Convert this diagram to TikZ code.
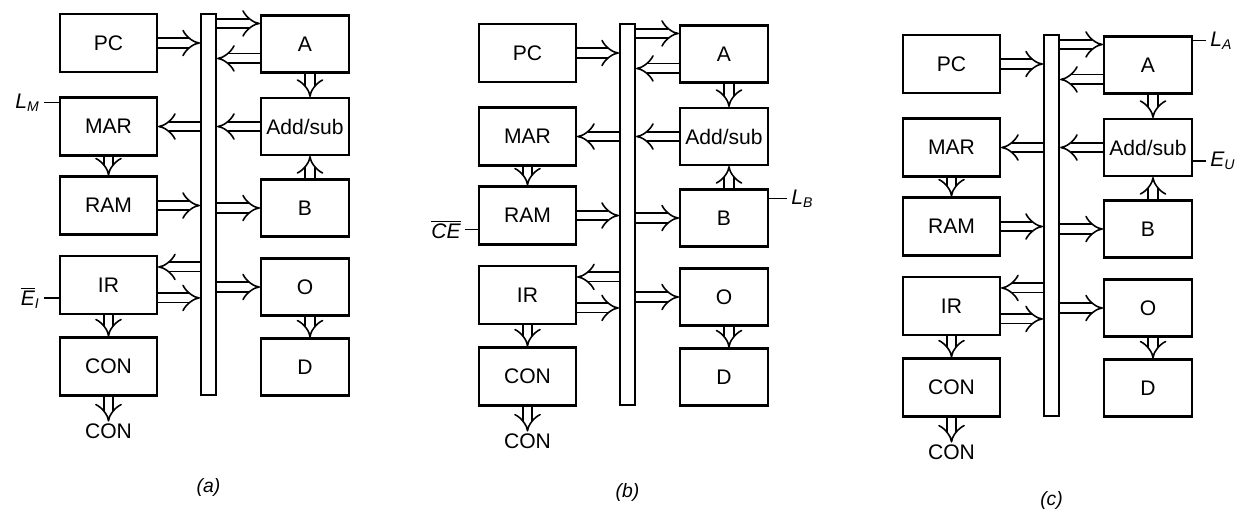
\documentclass[tikz,border=0pt]{standalone}
\usepackage{fontspec}
\setmainfont{Liberation Sans}
\usepackage{tikz}
\usetikzlibrary{positioning,calc,arrows.meta}

\begin{document}
\begin{tikzpicture}[
  x=0.02cm, y=-0.02cm,
  font=\fontsize{12}{14}\selectfont,
  lbox/.style={draw, line width=1.2pt, fill=white, inner sep=0pt,
               minimum width=1.94cm, minimum height=1.16cm},
  rbox/.style={lbox, minimum width=1.76cm, minimum height=1.14cm},
  busbar/.style={draw, line width=1.2pt, fill=white, inner sep=0pt,
                 minimum width=0.3cm, minimum height=7.62cm},
  outlbl/.style={inner sep=1pt},
  panellbl/.style={inner sep=1pt, font=\fontsize{11}{13}\selectfont\itshape},
  sig/.style={inner sep=2pt, font=\fontsize{12}{14}\selectfont\itshape},
  wide/.style={double, double distance=4.5pt, line width=0.9pt, -{Implies}},
  ctlline/.style={line width=0.9pt}
]
  \useasboundingbox (0,0) rectangle (1253,511);

  \foreach \p/\dx/\dy/\cd in {a/0/0/1.6cm, b/419/10/1.5cm, c/843/21/1.45cm} {
    \begin{scope}[shift={(\dx,\dy)}]
      % left column
      \node[lbox] (\p-pc)  at (108.5, 43)    {PC};
      \node[lbox] (\p-mar) at (108.5, 126.5) {MAR};
      \node[lbox] (\p-ram) at (108.5, 205.5) {RAM};
      \node[lbox] (\p-ir)  at (108.5, 285)   {IR};
      \node[lbox] (\p-con) at (108.5, 366.5) {CON};
      \node[outlbl, below=0.5cm of \p-con] (\p-out) {CON};
      % bus
      \node[busbar] (\p-bus) at (208.5, 204.5) {};
      % right column
      \node[rbox] (\p-a)   at (305, 44)    {A};
      \node[rbox] (\p-add) at (305, 126.5) {Add/sub};
      \node[rbox] (\p-b)   at (305, 208)   {B};
      \node[rbox] (\p-o)   at (305, 287)   {O};
      \node[rbox] (\p-d)   at (305, 367)   {D};
      \node[panellbl, below=\cd of \p-bus] (\p-cap) {(\p)};
    \end{scope}

    \draw[wide] (\p-pc.east) -- (\p-pc.east -| \p-bus.west);
    \draw[wide] ([yshift=-0.18cm]\p-bus.east |- \p-a.north) -- ([yshift=-0.18cm]\p-a.north west);
    \draw[wide] ([yshift=-0.88cm]\p-a.north west) -- ([yshift=-0.88cm]\p-bus.east |- \p-a.north);
    \draw[wide] ([xshift=0.1cm]\p-a.south) -- ([xshift=0.1cm]\p-add.north);
    \draw[wide] (\p-add.west) -- (\p-add.west -| \p-bus.east);
    \draw[wide] (\p-mar.east -| \p-bus.west) -- (\p-mar.east);
    \draw[wide] (\p-mar) -- (\p-ram);
    \draw[wide] (\p-ram.east) -- (\p-ram.east -| \p-bus.west);
    \draw[wide] (\p-b.west -| \p-bus.east) -- (\p-b.west);
    \draw[wide] ([xshift=0.1cm]\p-b.north) -- ([xshift=0.1cm]\p-add.south);
    \draw[wide] ([yshift=-0.24cm]\p-bus.west |- \p-ir.north) -- ([yshift=-0.24cm]\p-ir.north east);
    \draw[wide] ([yshift=-0.86cm]\p-ir.north east) -- ([yshift=-0.86cm]\p-bus.west |- \p-ir.north);
    \draw[wide] (\p-o.west -| \p-bus.east) -- (\p-o.west);
    \draw[wide] ([xshift=0.1cm]\p-o.south) -- ([xshift=0.1cm]\p-d.north);
    \draw[wide] (\p-ir) -- (\p-con);
    \draw[wide] (\p-con) -- (\p-out);
  }

  % control signals
  \draw[ctlline] ([yshift=-0.12cm]a-mar.north west) -- ++(-15,0)
        node[sig, left] (a-lm) {L\textsubscript{M}};
  \draw[ctlline] ([yshift=-0.86cm]a-ir.north west) -- ++(-15,0)
        node[sig, left] (a-ei) {$\overline{\mbox{E}}$\textsubscript{I}};
  \draw[ctlline] ([yshift=-0.88cm]b-ram.north west) -- ++(-13,0)
        node[sig, left] (b-ce) {$\overline{\mbox{CE}}$};
  \draw[ctlline] ([yshift=-0.2cm]b-b.north east) -- ++(18,0)
        node[sig, right] (b-lb) {L\textsubscript{B}};
  \draw[ctlline] ([yshift=-0.1cm]c-a.north east) -- ++(13,0)
        node[sig, right] (c-la) {L\textsubscript{A}};
  \draw[ctlline] ([yshift=-0.86cm]c-add.north east) -- ++(13,0)
        node[sig, right] (c-eu) {E\textsubscript{U}};
\end{tikzpicture}
\end{document}
